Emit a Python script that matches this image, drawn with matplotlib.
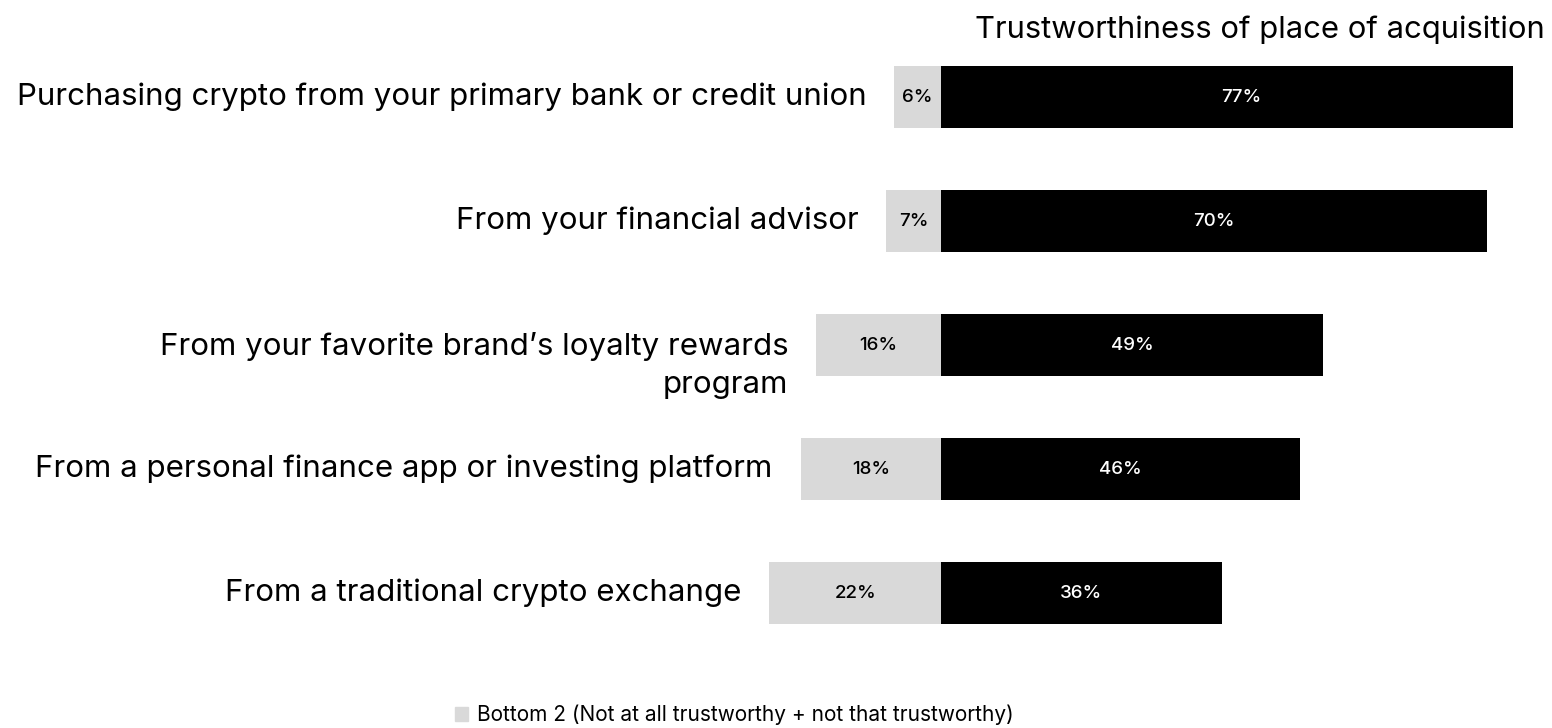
import matplotlib.pyplot as plt
from matplotlib.patches import Patch

categories = [
    "Purchasing crypto from your primary bank or credit union",
    "From your financial advisor",
    "From your favorite brand\u2019s loyalty rewards\nprogram",
    "From a personal finance app or investing platform",
    "From a traditional crypto exchange",
]
bottom2 = [6, 7, 16, 18, 22]
top2 = [77, 70, 49, 46, 36]

GRAY = "#d9d9d9"
plt.rcParams["font.family"] = ["Inter", "DejaVu Sans"]

fig = plt.figure(figsize=(15.52, 7.28), dpi=100)
ax = fig.add_axes([0, 73 / 728, 1513 / 1552, 620 / 728])

y = list(range(len(categories)))
ax.barh(y, [-v for v in bottom2], height=0.5, color=GRAY)
ax.barh(y, top2, height=0.5, color="black")

ax.set_xlim(-941 / 7.8, (1513 - 941) / 7.8)
ax.set_ylim(len(categories) - 0.5, -0.5)
ax.axis("off")

for i, (b, t, lab) in enumerate(zip(bottom2, top2, categories)):
    ax.text(-b / 2, i, f"{b}%", ha="center", va="center",
            fontsize=13.5, color="black", weight="medium")
    ax.text(t / 2, i, f"{t}%", ha="center", va="center",
            fontsize=13.5, color="white", weight="medium")
    # wrapped labels keep their first line level with the bar
    n = lab.count("\n") + 1
    ax.annotate(lab, xy=(-b, i), xytext=(-20, -(n - 1) * 15),
                textcoords="offset points", ha="right", va="center",
                fontsize=22.5, color="black", linespacing=1.45,
                annotation_clip=False)

fig.text(1545 / 1552, 1 - 30 / 728, "Trustworthiness of place of acquisition",
         ha="right", va="center", fontsize=22.3)

fig.legend(handles=[Patch(color=GRAY, label="Bottom 2 (Not at all trustworthy + not that trustworthy)")],
           loc="center", bbox_to_anchor=(734 / 1552, 1 - 715 / 728), frameon=False,
           fontsize=15, handlelength=0.65, handleheight=0.65, handletextpad=0.4)

fig.savefig("out.png", dpi=100)
